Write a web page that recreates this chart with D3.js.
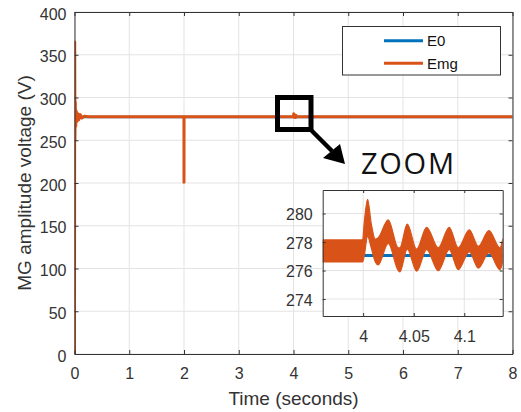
<!DOCTYPE html>
<html>
<head>
<meta charset="utf-8">
<script src="https://cdn.jsdelivr.net/npm/d3@7"></script>
<style>
  body { margin: 0; background: #fff; }
  svg { display: block; font-family: "Liberation Sans", Arial, sans-serif; }
  .axis path, .axis line { stroke: #333; }
  .axis text { fill: #333; font-size: 16px; font-family: "Liberation Sans", Arial, sans-serif; }
</style>
</head>
<body>
<svg id="chart" width="521" height="412"></svg>
<script>
// ---------- data ----------
const xTicks = [0, 1, 2, 3, 4, 5, 6, 7, 8];
const yTicks = [0, 50, 100, 150, 200, 250, 300, 350, 400];
const seriesNames = ["E0", "Emg"];

// E0 (reference voltage)
const e0Time = [0, 8];
const e0Value = [277.05, 277.05];

// Emg (main plot)
const emgTime  = [0, 0.004, 0.008, 0.014, 0.022, 0.032, 0.045, 0.06, 0.08, 0.105, 0.135, 0.18, 0.25, 1.999, 2.0, 2.001, 2.02, 4.0, 4.005, 4.012, 4.025, 4.035, 4.045, 4.06, 8.0];
const emgValue = [0, 365, 250, 295, 266, 284, 272, 281, 274, 280, 276, 278.2, 277.4, 277.4, 201, 277.4, 277.4, 277.4, 281, 277, 279.5, 276.5, 279, 277.4, 277.4];

// Inset (zoom around t = 4 s)
const insetXTicks = [4, 4.05, 4.1];
const insetYTicks = [274, 276, 278, 280];
const insetTime  = [3.96, 3.9995, 4.001, 4.0044, 4.008, 4.012, 4.0149, 4.0248, 4.0347, 4.0363, 4.0436, 4.0529, 4.0628, 4.0743, 4.0851, 4.094, 4.105, 4.1139, 4.1244, 4.1353, 4.138];
const insetUpper = [278.15, 278.15, 279.3, 281.0, 279.3, 278.2, 278.3, 279.56, 277.6, 277.6, 279.26, 277.5, 279.03, 277.6, 279.03, 277.6, 278.86, 277.7, 278.8, 277.6, 278.2];
const insetLower = [276.6, 276.6, 277.0, 278.4, 277.6, 276.6, 276.4, 277.9, 276.0, 275.9, 277.5, 275.95, 277.46, 275.99, 277.46, 276.06, 277.3, 276.17, 277.25, 276.06, 276.6];
const insetE0 = [277.05, 277.05];
const insetE0Time = [3.96, 4.138];

// ---------- drawing ----------
const blue = "#0072BD", orange = "#D95319";
const svg = d3.select("#chart");
svg.append("rect").attr("width", 521).attr("height", 412).attr("fill", "#fff");

const L = 74.5, R = 512.5, T = 12, B = 354;
const x = d3.scaleLinear().domain([0, 8]).range([L, R]);
const y = d3.scaleLinear().domain([0, 400]).range([B, T]);

// grid
const grid = svg.append("g");
grid.selectAll(".gx").data(xTicks).join("line")
  .attr("x1", d => x(d)).attr("x2", d => x(d)).attr("y1", T).attr("y2", B)
  .attr("stroke", "#e3e3e3").attr("stroke-width", 1);
grid.selectAll(".gy").data(yTicks).join("line")
  .attr("y1", d => y(d)).attr("y2", d => y(d)).attr("x1", L).attr("x2", R)
  .attr("stroke", "#e3e3e3").attr("stroke-width", 1);

// lines
const clipId = "mainclip";
svg.append("clipPath").attr("id", clipId).append("rect")
  .attr("x", L).attr("y", T).attr("width", R - L).attr("height", B - T);
const line = d3.line().x(d => x(d[0])).y(d => y(d[1]));
const plot = svg.append("g").attr("clip-path", `url(#${clipId})`);
plot.append("path").datum(d3.zip(e0Time, e0Value)).attr("d", line)
  .attr("fill", "none").attr("stroke", blue).attr("stroke-width", 2.5);
plot.append("path").datum(d3.zip(emgTime, emgValue)).attr("d", line)
  .attr("fill", "none").attr("stroke", orange).attr("stroke-width", 3).attr("stroke-linejoin", "round");

// axes
svg.append("g").attr("class", "axis").attr("transform", `translate(0,${B})`)
  .call(d3.axisBottom(x).tickValues(xTicks).tickSizeInner(-4).tickSizeOuter(0).tickPadding(14).tickFormat(d3.format("d")));
const axL = svg.append("g").attr("class", "axis").attr("transform", `translate(${L},0)`)
  .call(d3.axisLeft(y).tickValues(yTicks).tickSizeInner(-4).tickSizeOuter(0).tickPadding(8).tickFormat(d3.format("d")));
axL.selectAll("text").attr("dy", "0.45em");
svg.append("g").attr("class", "axis").attr("transform", `translate(0,${T})`)
  .call(d3.axisTop(x).tickValues(xTicks).tickSizeInner(-4).tickSizeOuter(0).tickFormat(""));
svg.append("g").attr("class", "axis").attr("transform", `translate(${R},0)`)
  .call(d3.axisRight(y).tickValues(yTicks).tickSizeInner(-4).tickSizeOuter(0).tickFormat(""));

// axis labels
svg.append("text").attr("x", (L + R) / 2).attr("y", 405).attr("text-anchor", "middle")
  .attr("font-size", 19).attr("fill", "#333").text("Time (seconds)");
svg.append("text").attr("transform", `translate(31,${(T + B) / 2}) rotate(-90)`).attr("text-anchor", "middle")
  .attr("font-size", 19).attr("fill", "#333").text("MG amplitude voltage (V)");

// legend
const lg = svg.append("g");
lg.append("rect").attr("x", 342.5).attr("y", 26.5).attr("width", 158).attr("height", 48.5)
  .attr("fill", "#fff").attr("stroke", "#333").attr("stroke-width", 1);
const legendColors = [blue, orange];
seriesNames.forEach((n, i) => {
  const cy = 40.7 + i * 22.6;
  lg.append("line").attr("x1", 384).attr("x2", 423).attr("y1", cy).attr("y2", cy)
    .attr("stroke", legendColors[i]).attr("stroke-width", 3);
  lg.append("text").attr("x", 427).attr("y", cy + 5.5).attr("font-size", 15).attr("fill", "#111").text(n);
});

// zoom marker rectangle and arrow
svg.append("rect").attr("x", 277.5).attr("y", 97.5).attr("width", 33.5).attr("height", 32)
  .attr("fill", "none").attr("stroke", "#000").attr("stroke-width", 5);
svg.append("line").attr("x1", 309).attr("y1", 128).attr("x2", 332).attr("y2", 151)
  .attr("stroke", "#000").attr("stroke-width", 4.5);
svg.append("path").attr("d", "M323,158 L340,144 L345,164 Z").attr("fill", "#000");
svg.append("text").attr("x", 361).attr("y", 173.5).attr("font-size", 29).attr("fill", "#111")
  .attr("font-family", "'Open Sans', 'Liberation Sans', sans-serif").attr("textLength", 93).text("ZOOM");

// inset
const iL = 322.7, iR = 502.7, iT = 190, iB = 316;
const ix = d3.scaleLinear().domain([3.96, 4.138]).range([iL, iR]);
const iy = d3.scaleLinear().domain([272.81, 281.65]).range([iB, iT]);
const inset = svg.append("g");
inset.append("rect").attr("x", iL).attr("y", iT).attr("width", iR - iL).attr("height", iB - iT).attr("fill", "#fff");
inset.selectAll(".igx").data(insetXTicks).join("line")
  .attr("x1", d => ix(d)).attr("x2", d => ix(d)).attr("y1", iT).attr("y2", iB)
  .attr("stroke", "#e3e3e3");
inset.selectAll(".igy").data(insetYTicks).join("line")
  .attr("y1", d => iy(d)).attr("y2", d => iy(d)).attr("x1", iL).attr("x2", iR)
  .attr("stroke", "#e3e3e3");
inset.append("clipPath").attr("id", "insetclip").append("rect")
  .attr("x", iL).attr("y", iT).attr("width", iR - iL).attr("height", iB - iT);
const ig = inset.append("g").attr("clip-path", "url(#insetclip)");
ig.append("path").datum(d3.zip(insetE0Time, insetE0))
  .attr("d", d3.line().x(d => ix(d[0])).y(d => iy(d[1])))
  .attr("fill", "none").attr("stroke", blue).attr("stroke-width", 3);
const band = d3.area().curve(d3.curveMonotoneX).x(d => ix(d[0])).y0(d => iy(d[2])).y1(d => iy(d[1]));
ig.append("path").datum(d3.zip(insetTime, insetUpper, insetLower)).attr("d", band)
  .attr("fill", orange).attr("stroke", orange).attr("stroke-width", 1.2).attr("stroke-linejoin", "round");

inset.append("g").attr("class", "axis").attr("transform", `translate(0,${iB})`)
  .call(d3.axisBottom(ix).tickValues(insetXTicks).tickSizeInner(-3).tickSizeOuter(0).tickPadding(15).tickFormat(d => d3.format("")(d)));
const iaxL = inset.append("g").attr("class", "axis").attr("transform", `translate(${iL},0)`)
  .call(d3.axisLeft(iy).tickValues(insetYTicks).tickSizeInner(-3).tickSizeOuter(0).tickPadding(10).tickFormat(d3.format("d")));
iaxL.selectAll("text").attr("dy", "0.4em");
inset.append("g").attr("class", "axis").attr("transform", `translate(0,${iT})`)
  .call(d3.axisTop(ix).tickValues(insetXTicks).tickSizeInner(-3).tickSizeOuter(0).tickFormat(""));
inset.append("g").attr("class", "axis").attr("transform", `translate(${iR},0)`)
  .call(d3.axisRight(iy).tickValues(insetYTicks).tickSizeInner(-3).tickSizeOuter(0).tickFormat(""));
</script>
</body>
</html>
